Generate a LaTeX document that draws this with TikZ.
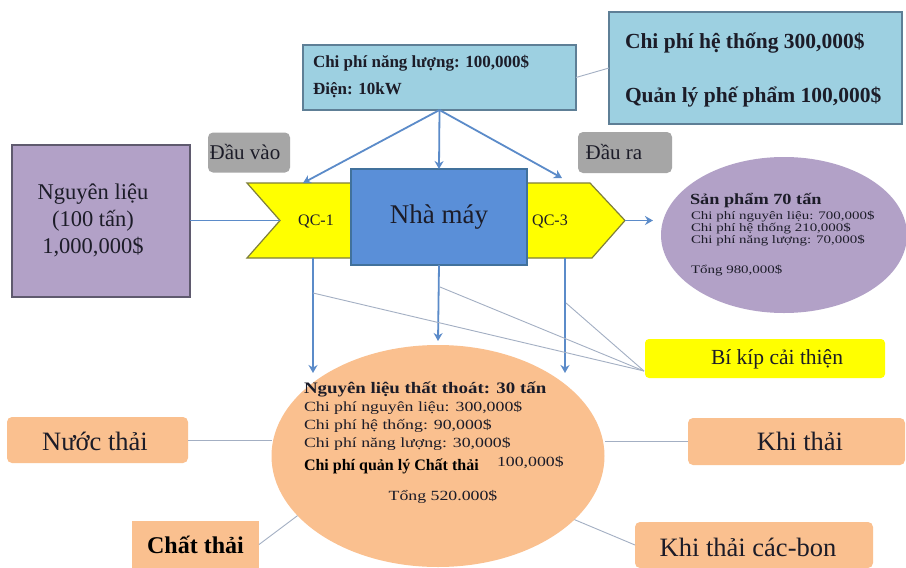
\documentclass[tikz,border=0pt]{standalone}
\usepackage{fontspec}
\setmainfont{Liberation Serif}
\newfontfamily\stA[FakeStretch=1.3]{Liberation Serif}
\newfontfamily\stB[FakeStretch=1.27]{Liberation Serif}
\newfontfamily\stC[FakeStretch=1.18]{Liberation Serif}
\newcommand\fz[2]{\fontsize{#1}{#2}\selectfont}
\usetikzlibrary{shapes.geometric,arrows.meta,calc}
\definecolor{ltblue}{HTML}{9DD0E1}
\definecolor{ltblueb}{HTML}{5E7F96}
\definecolor{purp}{HTML}{B2A1C7}
\definecolor{purpb}{HTML}{5F5A6E}
\definecolor{mblue}{HTML}{5A8FD8}
\definecolor{mblueb}{HTML}{41719C}
\definecolor{yel}{HTML}{FFFF00}
\definecolor{yelb}{HTML}{7F7F3A}
\definecolor{gbox}{HTML}{A6A6A6}
\definecolor{peach}{HTML}{FAC08F}
\definecolor{arrblue}{HTML}{5B8BC9}
\definecolor{thinl}{HTML}{A3AFC3}
\definecolor{txt}{HTML}{1C1C28}
\begin{document}
\begin{tikzpicture}[x=1pt,y=-1pt,
  every node/.style={inner sep=0pt, outer sep=0pt, text=txt},
  bluebox/.style={draw=ltblueb, fill=ltblue, line width=1.3pt},
  graybox/.style={fill=gbox, rounded corners=5pt},
  peachbox/.style={fill=peach, rounded corners=5pt},
  arr/.style={draw=arrblue, line width=1.8pt, -{Stealth[length=8pt,width=9pt]}},
  thin/.style={draw=thinl, line width=0.9pt}]
\useasboundingbox (0,0) rectangle (906,568);
\fill[white] (0,0) rectangle (906,568);

% top boxes
\node[bluebox, minimum width=273pt, minimum height=65pt] (energy) at (439.5,77.5) {};
\node[anchor=west, font=\bfseries\fz{17}{27}, align=left] (energytxt) at (313,76.5) {Chi phí năng lượng: 100,000\$\\Điện: 10kW};
\node[bluebox, minimum width=293pt, minimum height=112pt] (sysbox) at (755.5,68) {};
\node[anchor=west, font=\bfseries\fz{21.5}{54}, align=left] (systxt) at (625,70) {Chi phí hệ thống 300,000\$\\Quản lý phế phẩm 100,000\$};
\draw[thin] (energy.east) -- (sysbox.west);

% gray labels
\node[graybox, minimum width=82pt, minimum height=40pt] (dauvao) at (249,152.5) {};
\node[font=\fz{21}{24}] (dauvaotxt) at (245,152) {Đầu vào};
\node[graybox, minimum width=94pt, minimum height=41pt] (daura) at (625,152.5) {};
\node[font=\fz{21}{24}] (dauratxt) at (614,152) {Đầu ra};

% raw material box
\node[draw=purpb, fill=purp, line width=1.3pt, minimum width=178pt, minimum height=152pt] (nl) at (101,221) {};
\node[font=\fz{22.5}{27}, align=center] (nltxt) at (93,220.5) {Nguyên liệu\\(100 tấn)\\1,000,000\$};

% QC shapes
\coordinate (qc1notch) at (280,220.5);
\draw[draw=yelb, fill=yel, line width=1.2pt] (247,183) -- (352,183) -- (352,258) -- (247,258) -- (qc1notch) -- cycle;
\node[font=\fz{16}{18}] (qc1) at (316,221) {QC-1};
\coordinate (qc3tip) at (625,220.5);
\draw[draw=yelb, fill=yel, line width=1.2pt] (525,183) -- (590,183) -- (qc3tip) -- (592,258) -- (525,258) -- cycle;
\node[font=\fz{16}{18}] (qc3) at (550,221) {QC-3};

% factory
\node[draw=mblueb, fill=mblue, line width=1.3pt, minimum width=176pt, minimum height=96pt, font=\fz{27}{30}] (nhamay) at (439,217) {Nhà máy};
\draw[draw=arrblue, line width=1.8pt] (nl.east |- qc1notch) -- (qc1notch);

% arrows from energy box
\coordinate (qc1top) at (303,183);
\coordinate (qc3top) at (562,178);
\draw[arr] (energy.south) -- (qc1top);
\draw[arr] (energy.south) -- (nhamay.north);
\draw[arr] (energy.south) -- (qc3top);

% product ellipse
\node[ellipse, fill=purp, minimum width=246pt, minimum height=156pt] (product) at (784,235) {};
\coordinate (prodin) at (653,220.5);
\draw[arr] (qc3tip) -- (prodin);
\node[anchor=west, font=\stC\bfseries\fz{15.5}{18}] (ptitle) at (690,201) {Sản phẩm 70 tấn};
\node[anchor=west, font=\stA\fz{11.5}{12}, align=left] (plines) at (691,229) {Chi phí nguyên liệu: 700,000\$\\Chi phí hệ thống 210,000\$\\Chi phí năng lượng: 70,000\$};
\node[anchor=west, font=\stA\fz{11.5}{12}] (ptotal) at (691,271) {Tổng 980,000\$};

% loss ellipse
\node[ellipse, fill=peach, minimum width=333pt, minimum height=222pt] (loss) at (438,456) {};
\node[anchor=west, font=\stC\bfseries\fz{16}{18}] (ltitle) at (304,389) {Nguyên liệu thất thoát: 30 tấn};
\node[anchor=west, font=\stB\fz{14}{18}, align=left] (llines) at (304,426) {Chi phí nguyên liệu: 300,000\$\\Chi phí hệ thống: 90,000\$\\Chi phí năng lượng: 30,000\$};
\node[anchor=west, font=\bfseries\fz{16}{18}, text=black] (lmgmt) at (304,466) {Chi phí quản lý Chất thải};
\node[anchor=west, font=\stB\fz{14}{18}] (lmgmtv) at (497,463) {100,000\$};
\node[font=\stB\fz{14}{18}] (ltotal) at (443,497) {Tổng 520.000\$};

% down arrows
\coordinate (qc1bot) at (313,258);
\coordinate (loss1) at (313,373);
\coordinate (lossmid) at (438,341);
\coordinate (qc3bot) at (565,258);
\coordinate (loss3) at (565,373);
\draw[arr] (qc1bot) -- (loss1);
\draw[arr] (nhamay.south) -- (lossmid);
\draw[arr] (qc3bot) -- (loss3);

% improvement box and its lines
\node[fill=yel, rounded corners=4pt, minimum width=240pt, minimum height=39pt] (bikip) at (765,358.5) {};
\node[font=\fz{21.5}{24}] (bikiptxt) at (777,359) {Bí kíp cải thiện};
\coordinate (bkin) at (644,371);
\coordinate (s1) at (313,293);
\coordinate (s2) at (440,287);
\coordinate (s3) at (566,303);
\draw[thin] (s1) -- (bkin);
\draw[thin] (s2) -- (bkin);
\draw[thin] (s3) -- (bkin);

% outputs
\node[peachbox, minimum width=181pt, minimum height=46pt] (nuocthai) at (97.5,440) {};
\node[font=\fz{26.5}{28}] (nuocthaitxt) at (95,441) {Nước thải};
\draw[thin] (nuocthai.east) -- (nuocthai.east -| loss.west);
\node[peachbox, minimum width=217pt, minimum height=47pt] (khithai) at (796.5,441.5) {};
\node[font=\fz{26.5}{28}] (khithaitxt) at (800,441) {Khi thải};
\draw[thin] (khithai.west) -- (khithai.west -| loss.east);
\node[peachbox, minimum width=238pt, minimum height=46pt] (carbon) at (754,545) {};
\node[font=\fz{26.5}{28}] (carbontxt) at (748,547) {Khi thải các-bon};
\draw[thin] (loss.-25) -- (carbon.west);
\node[fill=peach, minimum width=127pt, minimum height=47pt, font=\bfseries\fz{24}{26}, text=black] (chatthai) at (195.5,544.5) {Chất thải};
\draw[thin] (chatthai.east) -- (loss.203);
\end{tikzpicture}
\end{document}
